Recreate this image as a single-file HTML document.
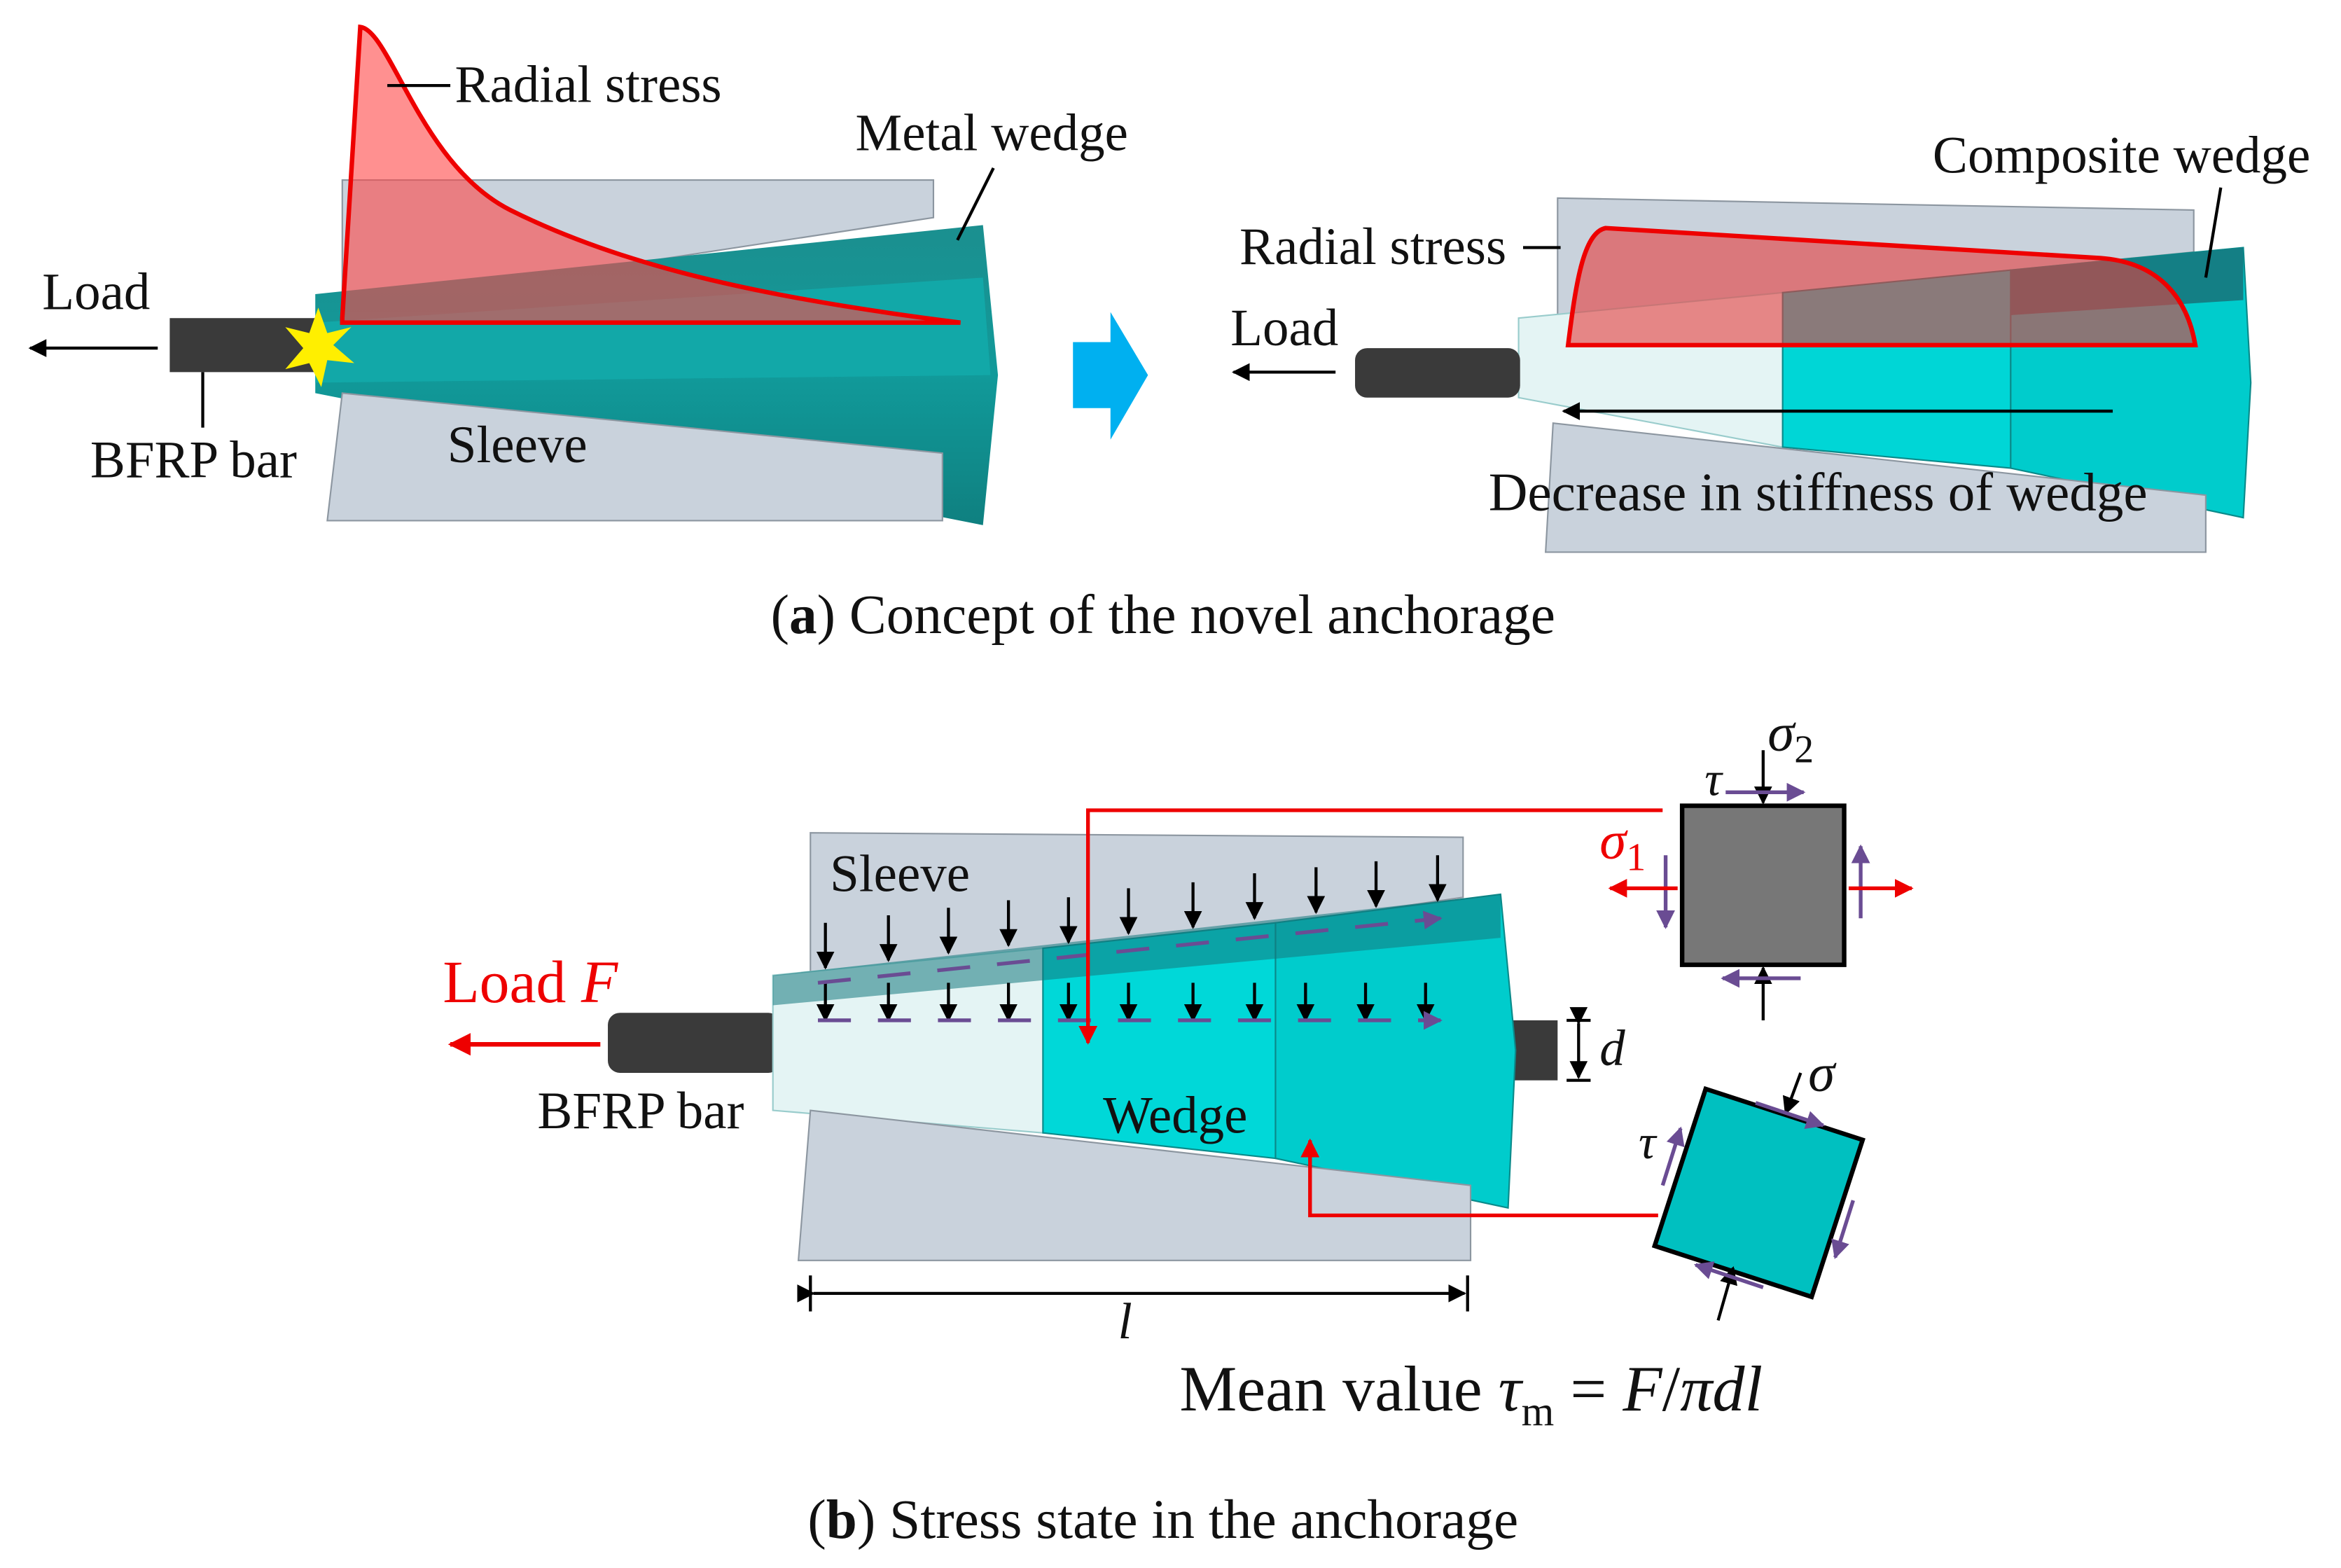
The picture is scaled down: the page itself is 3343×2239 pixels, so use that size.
<!DOCTYPE html>
<html><head><meta charset="utf-8"><style>
html,body{margin:0;padding:0;background:#fff;}
svg{display:block;}
text{font-family:"Liberation Serif",serif;fill:#111;}
</style></head><body>
<svg width="3343" height="2239" viewBox="0 0 1560 1045" xmlns="http://www.w3.org/2000/svg">
<defs>
<marker id="ab" viewBox="0 0 10 10" refX="9" refY="5" markerWidth="6" markerHeight="6" orient="auto"><path d="M0,0L10,5L0,10z" fill="#000"/></marker>
<marker id="ar" viewBox="0 0 10 10" refX="9" refY="5" markerWidth="5" markerHeight="5" orient="auto"><path d="M0,0L10,5L0,10z" fill="#e00"/></marker>
<marker id="ap" viewBox="0 0 10 10" refX="9" refY="5" markerWidth="5" markerHeight="5" orient="auto"><path d="M0,0L10,5L0,10z" fill="#6a4c93"/></marker>
<linearGradient id="tl" x1="0" y1="0" x2="0" y2="1"><stop offset="0" stop-color="#1b8f8f"/><stop offset="0.5" stop-color="#119a9a"/><stop offset="1" stop-color="#0f8080"/></linearGradient>
</defs>

<!-- ===== (a) left ===== -->
<polygon points="228,120 622,120 622,145 228,205" fill="#c9d2dc" stroke="#8c96a0"/>
<polygon points="210,196 655,150 665,250 655,350 210,262" fill="url(#tl)"/>
<polygon points="210,215 655,185 660,250 210,255" fill="#12a8a8"/>
<polygon points="228,262 628,302 628,347 218,347" fill="#c9d2dc" stroke="#8c96a0"/>
<rect x="113" y="212" width="100" height="36" fill="#3a3a3a"/>
<path d="M228,212 L240,18 C260,20 280,110 340,140 C420,180 520,200 640,215 L228,215 Z" fill="rgba(255,70,70,0.6)" stroke="#e00" stroke-width="3"/>
<polygon points="212,205 218,222 234,218 222,230 236,242 218,240 214,258 206,242 190,246 202,232 190,218 206,222" fill="#ffef00"/>
<line x1="105" y1="232" x2="20" y2="232" stroke="#000" stroke-width="2" marker-end="url(#ab)"/>
<text x="28" y="206" font-size="35">Load</text>
<line x1="135" y1="248" x2="135" y2="285" stroke="#000" stroke-width="2"/>
<text x="60" y="318" font-size="35">BFRP bar</text>
<text x="298" y="308" font-size="35">Sleeve</text>
<line x1="258" y1="57" x2="300" y2="57" stroke="#000" stroke-width="2"/>
<text x="303" y="68" font-size="35">Radial stress</text>
<line x1="662" y1="112" x2="638" y2="160" stroke="#000" stroke-width="2"/>
<text x="570" y="100" font-size="35">Metal wedge</text>

<polygon points="715,228 740,228 740,208 765,250 740,293 740,272 715,272" fill="#00b0f0"/>

<!-- ===== (a) right ===== -->
<polygon points="1038,132 1462,140 1462,168 1038,210" fill="#c9d2dc" stroke="#8c96a0"/>
<polygon points="1012,212 1188,195 1188,298 1012,265" fill="#e4f4f4" stroke="#9cc"/>
<polygon points="1188,195 1340,180 1340,312 1188,298" fill="#00d6d6" stroke="#0a8a8a"/>
<polygon points="1340,180 1495,165 1500,255 1495,345 1340,312" fill="#00cccc" stroke="#0a8a8a"/>
<polygon points="1340,180 1495,165 1495,200 1340,210" fill="#147f85"/>
<polygon points="1035,282 1470,330 1470,368 1030,368" fill="#c9d2dc" stroke="#8c96a0"/>
<rect x="903" y="232" width="110" height="33" rx="8" fill="#3a3a3a"/>
<path d="M1045,230 C1050,190 1055,155 1070,152 L1400,172 C1440,175 1458,200 1463,230 Z" fill="rgba(230,60,60,0.6)" stroke="#e00" stroke-width="3"/>
<line x1="890" y1="248" x2="822" y2="248" stroke="#000" stroke-width="2" marker-end="url(#ab)"/>
<text x="820" y="230" font-size="35">Load</text>
<line x1="1015" y1="165" x2="1040" y2="165" stroke="#000" stroke-width="2"/>
<text x="826" y="176" font-size="35">Radial stress</text>
<line x1="1480" y1="125" x2="1470" y2="185" stroke="#000" stroke-width="2"/>
<text x="1288" y="115" font-size="35">Composite wedge</text>
<line x1="1408" y1="274" x2="1042" y2="274" stroke="#000" stroke-width="2" marker-end="url(#ab)"/>
<text x="992" y="340" font-size="36">Decrease in stiffness of wedge</text>
<text x="775" y="422" font-size="37" text-anchor="middle">(<tspan font-weight="bold">a</tspan>) Concept of the novel anchorage</text>

<!-- ===== (b) ===== -->
<polygon points="540,555 975,558 975,598 540,662" fill="#c9d2dc" stroke="#8c96a0"/>
<rect x="405" y="675" width="115" height="40" rx="8" fill="#3a3a3a"/>
<rect x="1005" y="680" width="33" height="40" fill="#3a3a3a"/>
<polygon points="515,650 695,632 695,755 515,740" fill="#e4f4f4" stroke="#9cc"/>
<polygon points="695,632 850,615 850,772 695,755" fill="#00d8d8" stroke="#0a8a8a"/>
<polygon points="850,615 1000,596 1010,700 1005,805 850,772" fill="#00cccc" stroke="#0a8a8a"/>
<polygon points="515,650 1000,596 1000,625 515,670" fill="rgba(20,120,125,0.55)"/>
<polygon points="540,740 980,790 980,840 532,840" fill="#c9d2dc" stroke="#8c96a0"/>
<text x="553" y="594" font-size="35">Sleeve</text>
<text x="735" y="755" font-size="35">Wedge</text>
<g stroke="#000" stroke-width="2">
<line x1="550" y1="615" x2="550" y2="645" marker-end="url(#ab)"/>
<line x1="592" y1="610" x2="592" y2="640" marker-end="url(#ab)"/>
<line x1="632" y1="605" x2="632" y2="635" marker-end="url(#ab)"/>
<line x1="672" y1="600" x2="672" y2="630" marker-end="url(#ab)"/>
<line x1="712" y1="598" x2="712" y2="628" marker-end="url(#ab)"/>
<line x1="752" y1="592" x2="752" y2="622" marker-end="url(#ab)"/>
<line x1="795" y1="588" x2="795" y2="618" marker-end="url(#ab)"/>
<line x1="836" y1="582" x2="836" y2="612" marker-end="url(#ab)"/>
<line x1="877" y1="578" x2="877" y2="608" marker-end="url(#ab)"/>
<line x1="917" y1="574" x2="917" y2="604" marker-end="url(#ab)"/>
<line x1="958" y1="570" x2="958" y2="600" marker-end="url(#ab)"/>
<line x1="550" y1="655" x2="550" y2="680" marker-end="url(#ab)"/>
<line x1="592" y1="655" x2="592" y2="680" marker-end="url(#ab)"/>
<line x1="632" y1="655" x2="632" y2="680" marker-end="url(#ab)"/>
<line x1="672" y1="655" x2="672" y2="680" marker-end="url(#ab)"/>
<line x1="712" y1="655" x2="712" y2="680" marker-end="url(#ab)"/>
<line x1="752" y1="655" x2="752" y2="680" marker-end="url(#ab)"/>
<line x1="795" y1="655" x2="795" y2="680" marker-end="url(#ab)"/>
<line x1="836" y1="655" x2="836" y2="680" marker-end="url(#ab)"/>
<line x1="870" y1="655" x2="870" y2="680" marker-end="url(#ab)"/>
<line x1="910" y1="655" x2="910" y2="680" marker-end="url(#ab)"/>
<line x1="950" y1="655" x2="950" y2="680" marker-end="url(#ab)"/>
</g>
<g stroke="#6a4c93" stroke-width="2.5">
<line x1="545" y1="680" x2="960" y2="680" stroke-dasharray="22,18" marker-end="url(#ap)"/>
<line x1="545" y1="655" x2="960" y2="612" stroke-dasharray="22,18" marker-end="url(#ap)"/>
</g>
<text x="295" y="668" font-size="40" style="fill:#e00">Load <tspan font-style="italic">F</tspan></text>
<line x1="400" y1="696" x2="300" y2="696" stroke="#e00" stroke-width="3" marker-end="url(#ar)"/>
<text x="358" y="752" font-size="35">BFRP bar</text>
<line x1="1052" y1="682" x2="1052" y2="718" stroke="#000" stroke-width="2" marker-end="url(#ab)" marker-start="url(#ab)"/>
<line x1="1044" y1="680" x2="1060" y2="680" stroke="#000" stroke-width="2"/>
<line x1="1044" y1="720" x2="1060" y2="720" stroke="#000" stroke-width="2"/>
<text x="1066" y="710" font-size="34" font-style="italic">d</text>
<line x1="542" y1="862" x2="976" y2="862" stroke="#000" stroke-width="2" marker-end="url(#ab)" marker-start="url(#ab)"/>
<line x1="540" y1="850" x2="540" y2="874" stroke="#000" stroke-width="2"/>
<line x1="978" y1="850" x2="978" y2="874" stroke="#000" stroke-width="2"/>
<text x="745" y="892" font-size="34" font-style="italic">l</text>
<text x="786" y="940" font-size="43">Mean value <tspan font-style="italic">τ</tspan><tspan font-size="28" dy="10">m</tspan><tspan dy="-10"> = </tspan><tspan font-style="italic">F</tspan>/<tspan font-style="italic">πdl</tspan></text>
<polyline points="1108,540 725,540 725,695" fill="none" stroke="#e00" stroke-width="2.5" marker-end="url(#ar)"/>
<polyline points="1105,810 873,810 873,760" fill="none" stroke="#e00" stroke-width="2.5" marker-end="url(#ar)"/>
<rect x="1121" y="537" width="108" height="106" fill="#777" stroke="#000" stroke-width="3"/>
<line x1="1175" y1="500" x2="1175" y2="535" stroke="#000" stroke-width="2" marker-end="url(#ab)"/>
<line x1="1175" y1="680" x2="1175" y2="645" stroke="#000" stroke-width="2" marker-end="url(#ab)"/>
<line x1="1150" y1="528" x2="1202" y2="528" stroke="#6a4c93" stroke-width="2.5" marker-end="url(#ap)"/>
<line x1="1200" y1="652" x2="1148" y2="652" stroke="#6a4c93" stroke-width="2.5" marker-end="url(#ap)"/>
<line x1="1110" y1="570" x2="1110" y2="618" stroke="#6a4c93" stroke-width="2.5" marker-end="url(#ap)"/>
<line x1="1240" y1="612" x2="1240" y2="564" stroke="#6a4c93" stroke-width="2.5" marker-end="url(#ap)"/>
<line x1="1118" y1="592" x2="1073" y2="592" stroke="#e00" stroke-width="2.5" marker-end="url(#ar)"/>
<line x1="1232" y1="592" x2="1274" y2="592" stroke="#e00" stroke-width="2.5" marker-end="url(#ar)"/>
<text x="1178" y="500" font-size="36" font-style="italic">σ<tspan font-size="26" font-style="normal" dy="8">2</tspan></text>
<text x="1136" y="530" font-size="32" font-style="italic">τ</text>
<text x="1066" y="572" font-size="36" font-style="italic" style="fill:#e00">σ<tspan font-size="26" font-style="normal" dy="8">1</tspan></text>
<g transform="rotate(18 1172 795)">
<rect x="1117" y="740" width="110" height="110" fill="#00c0c0" stroke="#000" stroke-width="3"/>
</g>
<line x1="1200" y1="715" x2="1190" y2="742" stroke="#000" stroke-width="2" marker-end="url(#ab)"/>
<line x1="1145" y1="880" x2="1155" y2="845" stroke="#000" stroke-width="2" marker-end="url(#ab)"/>
<line x1="1170" y1="735" x2="1215" y2="750" stroke="#6a4c93" stroke-width="2.5" marker-end="url(#ap)"/>
<line x1="1175" y1="858" x2="1130" y2="843" stroke="#6a4c93" stroke-width="2.5" marker-end="url(#ap)"/>
<line x1="1108" y1="790" x2="1120" y2="752" stroke="#6a4c93" stroke-width="2.5" marker-end="url(#ap)"/>
<line x1="1235" y1="800" x2="1223" y2="838" stroke="#6a4c93" stroke-width="2.5" marker-end="url(#ap)"/>
<text x="1205" y="727" font-size="36" font-style="italic">σ</text>
<text x="1092" y="772" font-size="32" font-style="italic">τ</text>
<text x="775" y="1025" font-size="37" text-anchor="middle">(<tspan font-weight="bold">b</tspan>) Stress state in the anchorage</text>
</svg>
</body></html>
